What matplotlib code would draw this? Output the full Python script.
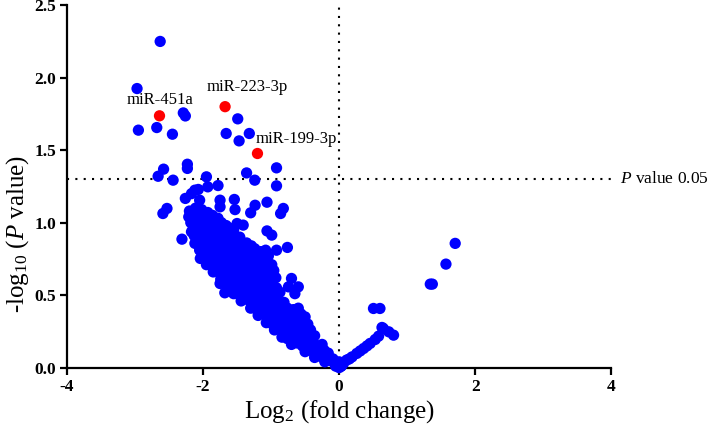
import matplotlib
matplotlib.use("Agg")
import matplotlib.pyplot as plt

plt.rcParams['font.family'] = ['Liberation Serif', 'DejaVu Serif']
plt.rcParams['mathtext.fontset'] = 'custom'
plt.rcParams['mathtext.rm'] = 'Liberation Serif'
plt.rcParams['mathtext.it'] = 'Liberation Serif:italic'
plt.rcParams['axes.unicode_minus'] = False

# isolated points (log2 fold change, -log10 p)
sparse_fc = [-2.63, -2.97, -2.29, -2.26, -2.95, -2.68, -2.45, -1.49, -1.66, -1.47,
             -1.32, -0.92, -0.92, -1.36, -1.24, -2.23, -2.23, -2.58, -2.66, -2.44,
             -1.95, -1.93, -1.78, -2.12, -2.07, -2.17, -2.26, -1.54, -1.235, -1.06,
             -0.82, -0.86, -2.53, -2.59, -1.53, -1.30, -1.75, -1.75, -2.05, -2.31,
             -2.12, -2.17, -2.04, -1.75, -1.68, -1.06, -0.99, -0.76, -0.92, -0.70,
             -0.745, -0.60, -0.65, -1.41, -1.50, -1.60, -1.46, -0.57,
             0.03, 0.064, 0.11, 0.15, 0.19, 0.26, 0.31, 0.36, 0.41, 0.456, 0.53,
             0.58, 0.63, 0.65, 0.73, 0.80, 0.505, 0.60, 1.34, 1.37, 1.57, 1.706]
sparse_p = [2.25, 1.925, 1.757, 1.736, 1.638, 1.656, 1.61, 1.716, 1.615, 1.564,
            1.615, 1.378, 1.254, 1.343, 1.293, 1.403, 1.374, 1.369, 1.32, 1.293,
            1.316, 1.247, 1.256, 1.224, 1.229, 1.20, 1.167, 1.16, 1.12, 1.141,
            1.098, 1.063, 1.098, 1.063, 1.09, 1.068, 1.155, 1.109, 1.155, 0.886,
            0.857, 0.937, 0.753, 0.58, 0.516, 0.943, 0.914, 0.829, 0.81, 0.615,
            0.557, 0.557, 0.51, 0.983, 0.994, 0.96, 0.90, 0.316,
            0.01, 0.029, 0.052, 0.06, 0.074, 0.098, 0.115, 0.132, 0.15, 0.167, 0.194,
            0.217, 0.277, 0.27, 0.247, 0.224, 0.408, 0.408, 0.576, 0.576, 0.714, 0.857]

# dense band of non-significant miRNAs
band_fc = [-2.20, -2.11, -2.02, -1.93,
           -2.21, -2.13, -2.04, -1.95, -1.86, -1.78,
           -2.18, -2.09, -2.00, -1.91, -1.82, -1.73, -1.66,
           -2.15, -2.06, -1.97, -1.88, -1.79, -1.70, -1.61, -1.55,
           -2.13, -2.04, -1.95, -1.86, -1.77, -1.68, -1.59, -1.50,
           -2.08, -1.99, -1.90, -1.81, -1.72, -1.63, -1.54, -1.45, -1.36, -1.29,
           -2.05, -1.96, -1.87, -1.78, -1.69, -1.60, -1.51, -1.42, -1.33, -1.24, -1.15, -1.08,
           -2.01, -1.92, -1.83, -1.74, -1.65, -1.56, -1.47, -1.38, -1.29, -1.20, -1.11, -1.04,
           -1.95, -1.86, -1.77, -1.68, -1.59, -1.50, -1.41, -1.32, -1.23, -1.14, -1.05, -0.99,
           -1.85, -1.76, -1.67, -1.58, -1.49, -1.40, -1.31, -1.22, -1.13, -1.04, -0.96,
           -1.74, -1.65, -1.56, -1.47, -1.38, -1.29, -1.20, -1.11, -1.02, -0.93,
           -1.64, -1.55, -1.46, -1.37, -1.28, -1.19, -1.10, -1.01, -0.92,
           -1.55, -1.46, -1.37, -1.28, -1.19, -1.10, -1.01, -0.92, -0.87,
           -1.44, -1.35, -1.26, -1.17, -1.08, -0.99, -0.90, -0.81,
           -1.30, -1.21, -1.12, -1.03, -0.94, -0.85, -0.76, -0.67, -0.60,
           -1.19, -1.10, -1.01, -0.92, -0.83, -0.74, -0.65, -0.56, -0.50,
           -1.07, -0.98, -0.89, -0.80, -0.71, -0.62, -0.53, -0.46,
           -0.95, -0.86, -0.77, -0.68, -0.59, -0.50, -0.42,
           -0.84, -0.76, -0.68, -0.60, -0.52, -0.44, -0.36,
           -0.70, -0.62, -0.54, -0.46, -0.38, -0.30, -0.25,
           -0.50, -0.43, -0.36, -0.29, -0.22, -0.16,
           -0.36, -0.29, -0.22, -0.15, -0.09,
           -0.21, -0.14, -0.07, 0.00, 0.04,
           -0.05, 0.00, 0.03]
band_p = [1.08, 1.10, 1.09, 1.07,
          1.04, 1.05, 1.06, 1.04, 1.05, 1.03,
          1.00, 0.99, 1.01, 1.00, 0.99, 1.00, 0.98,
          0.95, 0.96, 0.95, 0.97, 0.95, 0.96, 0.94, 0.95,
          0.91, 0.90, 0.92, 0.91, 0.90, 0.91, 0.92, 0.90,
          0.86, 0.85, 0.87, 0.86, 0.85, 0.86, 0.87, 0.85, 0.86, 0.84,
          0.81, 0.80, 0.82, 0.81, 0.80, 0.82, 0.81, 0.80, 0.81, 0.82, 0.80, 0.81,
          0.76, 0.77, 0.75, 0.76, 0.77, 0.75, 0.76, 0.77, 0.75, 0.76, 0.75, 0.77,
          0.71, 0.70, 0.72, 0.71, 0.70, 0.72, 0.71, 0.70, 0.71, 0.72, 0.70, 0.71,
          0.66, 0.67, 0.65, 0.66, 0.67, 0.65, 0.66, 0.67, 0.65, 0.66, 0.67,
          0.61, 0.60, 0.62, 0.61, 0.60, 0.62, 0.61, 0.60, 0.61, 0.62,
          0.56, 0.57, 0.55, 0.56, 0.57, 0.55, 0.56, 0.57, 0.55,
          0.51, 0.50, 0.52, 0.51, 0.50, 0.52, 0.51, 0.50, 0.52,
          0.46, 0.47, 0.45, 0.46, 0.47, 0.45, 0.46, 0.45,
          0.41, 0.40, 0.42, 0.41, 0.40, 0.42, 0.41, 0.40, 0.41,
          0.36, 0.37, 0.35, 0.36, 0.37, 0.35, 0.36, 0.37, 0.35,
          0.31, 0.30, 0.32, 0.31, 0.30, 0.32, 0.31, 0.30,
          0.26, 0.27, 0.25, 0.26, 0.27, 0.25, 0.26,
          0.21, 0.20, 0.22, 0.21, 0.20, 0.21, 0.22,
          0.16, 0.17, 0.15, 0.16, 0.17, 0.15, 0.16,
          0.11, 0.12, 0.10, 0.11, 0.12, 0.10,
          0.07, 0.08, 0.06, 0.07, 0.06,
          0.04, 0.05, 0.03, 0.04, 0.03,
          0.01, 0.00, 0.01]

# highlighted miRNAs
hit_names = ['miR-451a', 'miR-223-3p', 'miR-199-3p']
hit_fc = [-2.64, -1.676, -1.20]
hit_p = [1.737, 1.80, 1.477]

p_cut = 1.3

fig = plt.figure(figsize=(7.2, 4.33), dpi=100)
ax = fig.add_axes([0.093, 0.151, 0.756, 0.837])

ax.scatter(band_fc + sparse_fc, band_p + sparse_p, s=66, color='#0000ff',
           edgecolors='none', zorder=3, clip_on=False)
ax.scatter(hit_fc, hit_p, s=66, color='#ff0000', edgecolors='none', zorder=4)

# labels above the red points
label_dx = [0.0, 0.33, 0.57]
label_dy = [0.11, 0.135, 0.10]
for name, x, y, dx, dy in zip(hit_names, hit_fc, hit_p, label_dx, label_dy):
    ax.text(x + dx, y + dy, name, fontsize=12, ha='center', va='center', zorder=5)

ax.axhline(p_cut, color='black', lw=1.5, ls=(0, (1, 3)), zorder=2)
ax.axvline(0, color='black', lw=1.5, ls=(0, (1, 3)), zorder=2)
ax.text(4.13, p_cut, '$P$ value 0.05', fontsize=12.5, va='center', ha='left',
        clip_on=False)

ax.set_xlim(-4, 4)
ax.set_ylim(0, 2.5)
ax.set_xticks([-4, -2, 0, 2, 4])
ax.set_yticks([0, 0.5, 1.0, 1.5, 2.0, 2.5])
ax.set_yticklabels(['0.0', '0.5', '1.0', '1.5', '2.0', '2.5'])
for lab in ax.get_xticklabels() + ax.get_yticklabels():
    lab.set_fontweight('bold')
    lab.set_fontsize(12.5)

ax.spines['top'].set_visible(False)
ax.spines['right'].set_visible(False)
ax.spines['left'].set_linewidth(1.6)
ax.spines['bottom'].set_linewidth(1.6)
ax.tick_params(width=1.6, length=5, pad=3)

ax.set_xlabel('Log$_2$ (fold change)', fontsize=18, va='center')
ax.set_ylabel('-log$_{10}$ ($P$ value)', fontsize=18, va='center')
ax.xaxis.set_label_coords(0.5, -0.12)
ax.yaxis.set_label_coords(-0.09, 0.37)

fig.savefig('out.png', dpi=100)
